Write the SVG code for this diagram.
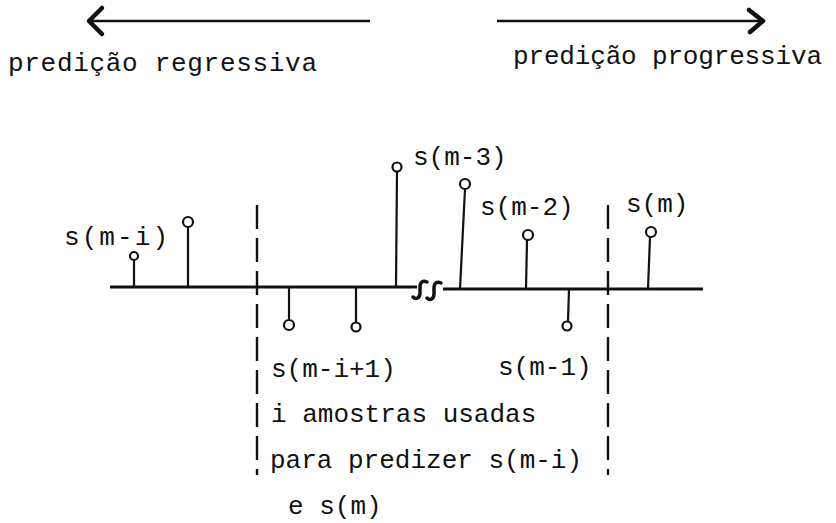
<svg xmlns="http://www.w3.org/2000/svg" width="836" height="523" viewBox="0 0 836 523">
<style>
text{font-family:"Liberation Mono","DejaVu Sans Mono",monospace;font-size:26px;fill:#111}
.ax{stroke:#111;stroke-width:3;fill:none}
.st{stroke:#111;stroke-width:2.2;fill:none}
.dot{stroke:#111;stroke-width:2.2;fill:#fff}
.dash{stroke:#111;stroke-width:2.4;stroke-dasharray:24 9;fill:none}
.arr{stroke:#111;stroke-width:2.5;fill:none}
.head{stroke:#111;stroke-width:4.5;fill:none;stroke-linecap:round;stroke-linejoin:round}
.brk{stroke:#111;stroke-width:3.5;fill:none;stroke-linecap:round}
</style>
<rect width="836" height="523" fill="#fff"/>
<g id="arrow-regressiva">
<line class="arr" x1="90" y1="21" x2="370" y2="21"/>
<polyline class="head" points="102,8 89,21 102,34"/>
<text x="8" y="71" textLength="309">predição regressiva</text>
</g>
<g id="arrow-progressiva">
<line class="arr" x1="497" y1="21" x2="762" y2="21"/>
<polyline class="head" points="749,10 763,21 750,32"/>
<text x="513" y="64" textLength="309">predição progressiva</text>
</g>
<g id="axis">
<line class="ax" x1="110" y1="287" x2="417" y2="287"/>
<line class="ax" x1="443" y1="289" x2="703" y2="289"/>
<path class="brk" d="M413,297 c3,3 7,1 7,-4 l0,-6 c0,-5 3,-7 7,-5 M427,298 c3,3 7,1 7,-4 l0,-6 c0,-5 3,-7 7,-5"/>
</g>
<g id="window-left"><line class="dash" x1="257" y1="205" x2="257" y2="475"/></g>
<g id="window-right"><line class="dash" x1="608" y1="205" x2="608" y2="475"/></g>
<g id="samples">
<line class="st" x1="134" y1="287" x2="134" y2="260"/><circle class="dot" cx="134" cy="256" r="4"/>
<line class="st" x1="188" y1="287" x2="188" y2="227"/><circle class="dot" cx="188" cy="222" r="5"/>
<line class="st" x1="289" y1="287" x2="289" y2="320"/><circle class="dot" cx="289" cy="325" r="5"/>
<line class="st" x1="356" y1="287" x2="356" y2="322"/><circle class="dot" cx="356" cy="327" r="4.5"/>
<line class="st" x1="396" y1="287" x2="397" y2="172"/><circle class="dot" cx="397" cy="167" r="4.5"/>
<line class="st" x1="460" y1="289" x2="465" y2="189"/><circle class="dot" cx="465" cy="184" r="5"/>
<line class="st" x1="526" y1="289" x2="527" y2="240"/><circle class="dot" cx="528" cy="235" r="5"/>
<line class="st" x1="569" y1="289" x2="568" y2="321"/><circle class="dot" cx="567" cy="326" r="4.5"/>
<line class="st" stroke-width="3" x1="648" y1="289" x2="650" y2="237"/><circle class="dot" stroke-width="3" cx="651" cy="232" r="5"/>
</g>
<g id="labels">
<text x="64" y="245" textLength="104">s(m-i)</text>
<text x="413" y="165">s(m-3)</text>
<text x="480" y="215">s(m-2)</text>
<text x="626" y="212">s(m)</text>
<text x="271" y="377">s(m-i+1)</text>
<text x="498" y="375">s(m-1)</text>
<text x="271" y="422">i amostras usadas</text>
<text x="270" y="468">para predizer s(m-i)</text>
<text x="288" y="514">e s(m)</text>
</g>
</svg>
